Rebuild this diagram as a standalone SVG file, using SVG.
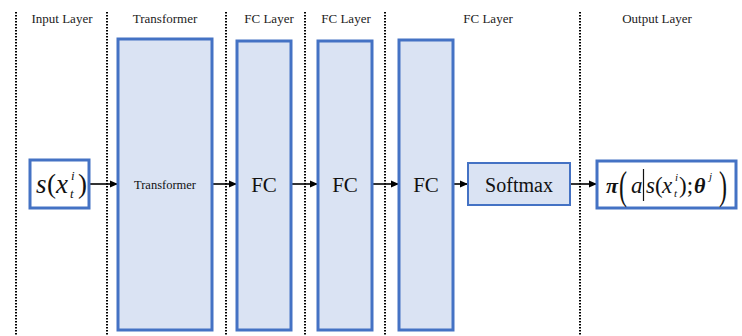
<svg xmlns="http://www.w3.org/2000/svg" width="742" height="336" viewBox="0 0 742 336">
  <defs>
    <marker id="arrow" markerWidth="8" markerHeight="8" refX="7" refY="4" orient="auto" markerUnits="userSpaceOnUse">
      <path d="M0,0.5 L8,4 L0,7.5 Z" fill="#000"/>
    </marker>
    <style>
      .sep { stroke: #000; stroke-width: 2; stroke-dasharray: 1.5 1.5; fill: none; }
      .layer { fill: #DAE3F3; stroke: #4472C4; stroke-width: 3; }
      .soft { fill: #DAE3F3; stroke: #4472C4; stroke-width: 2; }
      .io { fill: #fff; stroke: #4472C4; stroke-width: 3; }
      .conn { stroke: #000; stroke-width: 1.6; fill: none; marker-end: url(#arrow); }
    </style>
  </defs>

  <rect width="742" height="336" fill="#fff"/>

  <!-- column separators -->
  <g id="separators">
    <line class="sep" x1="16" y1="12" x2="16" y2="336"/>
    <line class="sep" x1="107" y1="12" x2="107" y2="336"/>
    <line class="sep" x1="226" y1="12" x2="226" y2="336"/>
    <line class="sep" x1="305" y1="12" x2="305" y2="336"/>
    <line class="sep" x1="385" y1="12" x2="385" y2="336"/>
    <line class="sep" x1="580" y1="12" x2="580" y2="336"/>
  </g>

  <!-- column headings -->
  <g id="headings" font-family="Liberation Serif" font-size="13" fill="#222" text-anchor="middle">
    <text x="62" y="23">Input Layer</text>
    <text x="165" y="23">Transformer</text>
    <text x="269" y="23">FC Layer</text>
    <text x="346" y="23">FC Layer</text>
    <text x="488" y="23">FC Layer</text>
    <text x="657" y="23">Output Layer</text>
  </g>

  <!-- connectors -->
  <g id="connectors">
    <line class="conn" x1="89" y1="184" x2="117" y2="184"/>
    <line class="conn" x1="212" y1="184" x2="236" y2="184"/>
    <line class="conn" x1="291" y1="184" x2="317" y2="184"/>
    <line class="conn" x1="372" y1="184" x2="398" y2="184"/>
    <line class="conn" x1="453" y1="184" x2="467" y2="184"/>
    <line class="conn" x1="570" y1="184" x2="596" y2="184"/>
  </g>

  <!-- input state -->
  <g id="input" font-family="Liberation Serif" fill="#111">
    <rect class="io" x="30" y="160" width="59" height="48"/>
    <text x="36" y="193" font-size="27" font-style="italic">s</text>
    <text x="47" y="193" font-size="27">(</text>
    <text x="56" y="193" font-size="27" font-style="italic">x</text>
    <text x="71" y="180" font-size="13" font-style="italic">i</text>
    <text x="70" y="198" font-size="13" font-style="italic">t</text>
    <text x="78" y="193" font-size="27">)</text>
  </g>

  <!-- transformer -->
  <g id="transformer" font-family="Liberation Serif" fill="#111" text-anchor="middle">
    <rect class="layer" x="118" y="39" width="94" height="291"/>
    <text x="165" y="189" font-size="12.5">Transformer</text>
  </g>

  <!-- fully connected layers -->
  <g id="fc1" font-family="Liberation Serif" fill="#111" text-anchor="middle">
    <rect class="layer" x="237" y="41" width="54" height="289"/>
    <text x="264" y="192" font-size="21">FC</text>
  </g>
  <g id="fc2" font-family="Liberation Serif" fill="#111" text-anchor="middle">
    <rect class="layer" x="318" y="41" width="54" height="289"/>
    <text x="345" y="192" font-size="21">FC</text>
  </g>
  <g id="fc3" font-family="Liberation Serif" fill="#111" text-anchor="middle">
    <rect class="layer" x="399" y="40" width="54" height="290"/>
    <text x="426" y="192" font-size="21">FC</text>
  </g>

  <!-- softmax -->
  <g id="softmax" font-family="Liberation Serif" fill="#111" text-anchor="middle">
    <rect class="soft" x="468" y="163" width="102" height="42"/>
    <text x="519" y="192" font-size="20">Softmax</text>
  </g>

  <!-- policy output -->
  <g id="output" font-family="Liberation Serif" fill="#111">
    <rect class="io" x="597" y="161" width="139" height="47"/>
    <text x="606" y="193" font-size="22" font-weight="bold" font-style="italic">π</text>
    <text x="619" y="199" font-size="40" transform="translate(619 199) scale(0.6 1) translate(-619 -199)">(</text>
    <text x="631" y="193" font-size="23" font-style="italic">a</text>
    <line x1="643.5" y1="169" x2="643.5" y2="201" stroke="#111" stroke-width="1.2"/>
    <text x="646" y="193" font-size="23" font-style="italic">s</text>
    <text x="655" y="193" font-size="23">(</text>
    <text x="662" y="193" font-size="23" font-style="italic">x</text>
    <text x="675" y="181" font-size="11" font-style="italic">i</text>
    <text x="674" y="197" font-size="11" font-style="italic">t</text>
    <text x="679" y="193" font-size="23">);</text>
    <text x="694" y="193" font-size="22" font-weight="bold" font-style="italic">θ</text>
    <text x="709" y="180" font-size="11" font-style="italic">j</text>
    <text x="719" y="199" font-size="40" transform="translate(719 199) scale(0.6 1) translate(-719 -199)">)</text>
  </g>
</svg>
